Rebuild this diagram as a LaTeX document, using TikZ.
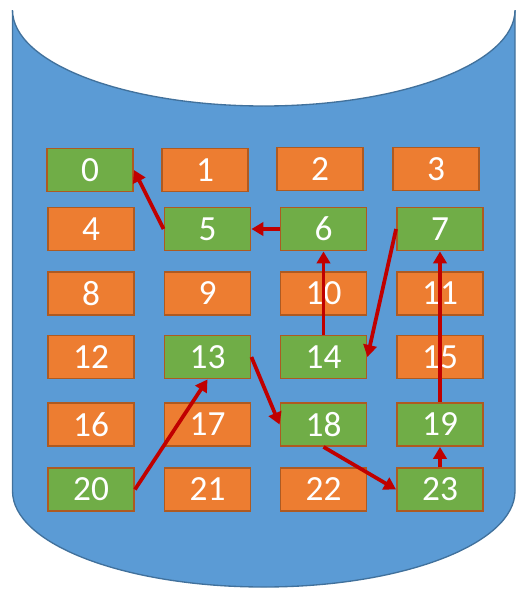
\documentclass[tikz,border=0pt]{standalone}
\usepackage{fontspec}
\setmainfont{Carlito}
\usetikzlibrary{arrows.meta}
\definecolor{cylblue}{HTML}{5B9BD5}
\definecolor{cyledge}{HTML}{41719C}
\definecolor{boxorange}{HTML}{ED7D31}
\definecolor{boxgreen}{HTML}{70AD47}
\definecolor{boxedge}{HTML}{AE5A21}
\definecolor{arrred}{HTML}{C00000}
\tikzset{
  cell/.style={draw=boxedge, line width=1.4pt, minimum width=64.5pt, minimum height=32.25pt,
    inner sep=0pt, text=white, font=\fontsize{26.5}{28}\selectfont},
  obox/.style={cell, fill=boxorange},
  gbox/.style={cell, fill=boxgreen},
  link/.style={draw=arrred, line width=2.8pt, -{Triangle[length=9pt,width=10pt]}}
}
\begin{document}
\begin{tikzpicture}[x=0.75pt,y=-0.75pt]
\useasboundingbox (0,0) rectangle (528,596);
\begin{scope}
\clip (0,10) rectangle (528,596);
\path[fill=cylblue, draw=cyledge, line width=1pt]
  (12.5,10) -- (12.5,491) arc[start angle=180, end angle=0, x radius=251.25, y radius=96] -- (515,10) -- cycle;
\path[fill=white, draw=cyledge, line width=1pt] (263.75,10) ellipse[x radius=251.25, y radius=96];
\end{scope}
% row 0
\node[gbox] (n0) at (90,170) {0};
\node[obox] (n1) at (205,170) {1};
\node[obox] (n2) at (320,169) {2};
\node[obox] (n3) at (436,169) {3};
% row 1
\node[obox] (n4) at (91,229) {4};
\node[gbox] (n5) at (207.5,229) {5};
\node[gbox] (n6) at (323.5,229) {6};
\node[gbox] (n7) at (440,229) {7};
% row 2
\node[obox] (n8) at (91,293.5) {8};
\node[obox] (n9) at (207.5,293.5) {9};
\node[obox] (n10) at (323.5,293.5) {10};
\node[obox] (n11) at (440,293.5) {11};
% row 3
\node[obox] (n12) at (91,357) {12};
\node[gbox] (n13) at (207.5,357) {13};
\node[gbox] (n14) at (323.5,357) {14};
\node[obox] (n15) at (440,357) {15};
% row 4
\node[obox] (n16) at (91,424.5) {16};
\node[obox] (n17) at (207.5,424.5) {17};
\node[gbox] (n18) at (323.5,424.5) {18};
\node[gbox] (n19) at (440,424.5) {19};
% row 5
\node[gbox] (n20) at (91,489.5) {20};
\node[obox] (n21) at (207.5,489.5) {21};
\node[obox] (n22) at (323.5,489.5) {22};
\node[gbox] (n23) at (440,489.5) {23};
% arrows
\draw[link] (n5.west) -- (n0.east);
\draw[link] (n6.west) -- (n5.east);
\draw[link] (n14.north) -- (n6.south);
\draw[link] (n7.west) -- (n14.east);
\draw[link] (n13.east) -- (n18.west);
\draw[link] (n20.east) -- (n13.south);
\draw[link] (n18.south) -- (n23.west);
\draw[link] (n23.north) -- (n19.south);
\draw[link] (n19.north) -- (n7.south);
\end{tikzpicture}
\end{document}
